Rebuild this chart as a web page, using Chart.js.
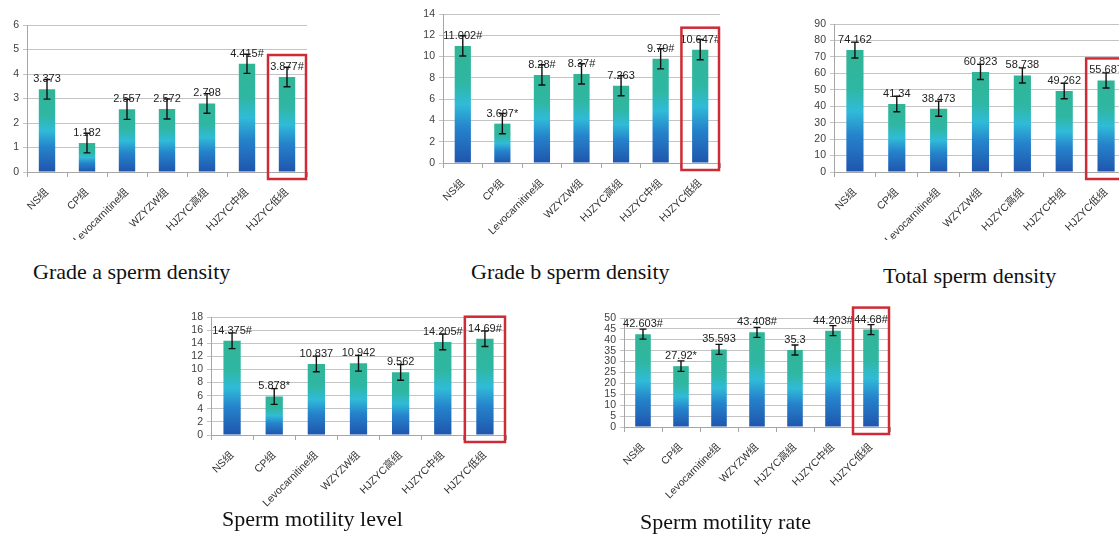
<!DOCTYPE html>
<html>
<head>
<meta charset="utf-8">
<script src="https://cdn.jsdelivr.net/npm/chart.js@4.4.1/dist/chart.umd.min.js"></script>
<style>
  html, body { margin: 0; padding: 0; background: #fff; }
  body { width: 1119px; height: 536px; overflow: hidden; position: relative; }
  .panel { position: absolute; }
  .caption { position: absolute; font-family: "Liberation Serif", "DejaVu Serif", serif; font-size: 22px; line-height: 22px; color: #111; white-space: nowrap; }
</style>
</head>
<body>
<canvas id="c1" class="panel" width="320" height="240" style="left:0px;top:0px"></canvas>
<canvas id="c2" class="panel" width="340" height="240" style="left:400px;top:0px"></canvas>
<canvas id="c3" class="panel" width="350" height="240" style="left:790px;top:0px"></canvas>
<canvas id="c4" class="panel" width="350" height="236" style="left:170px;top:300px"></canvas>
<canvas id="c5" class="panel" width="330" height="236" style="left:580px;top:300px"></canvas>

<div class="caption" style="left:33px;top:261px">Grade a sperm density</div>
<div class="caption" style="left:471px;top:261px">Grade b sperm density</div>
<div class="caption" style="left:883px;top:265px">Total sperm density</div>
<div class="caption" style="left:222px;top:508px">Sperm motility level</div>
<div class="caption" style="left:640px;top:511px">Sperm motility rate</div>

<script>
// Treatment groups
const groups = ['NS组', 'CP组', 'Levocarnitine组', 'WZYZW组', 'HJZYC高组', 'HJZYC中组', 'HJZYC低组'];

// Grade a sperm density
const gradeA = [3.373, 1.182, 2.557, 2.572, 2.798, 4.415, 3.877];
const gradeAErr = [0.4, 0.4, 0.41, 0.41, 0.4, 0.39, 0.4];
const gradeAMarks = ['', '', '', '', '', '#', '#'];
const gradeATicks = { max: 6, step: 1 };

// Grade b sperm density
const gradeB = [11.002, 3.697, 8.28, 8.37, 7.263, 9.79, 10.647];
const gradeBErr = [0.95, 0.95, 0.95, 0.95, 0.95, 0.95, 0.95];
const gradeBMarks = ['#', '*', '#', '#', '', '#', '#'];
const gradeBTicks = { max: 14, step: 2 };

// Total sperm density
const total = [74.162, 41.34, 38.473, 60.823, 58.738, 49.262, 55.687];
const totalErr = [4.8, 4.7, 4.6, 4.6, 4.6, 4.7, 4.6];
const totalMarks = ['', '', '', '', '', '', ''];
const totalTicks = { max: 90, step: 10 };

// Sperm motility level
const motLevel = [14.375, 5.878, 10.837, 10.942, 9.562, 14.205, 14.69];
const motLevelErr = [1.2, 1.2, 1.2, 1.2, 1.2, 1.2, 1.2];
const motLevelMarks = ['#', '*', '', '', '', '#', '#'];
const motLevelTicks = { max: 18, step: 2 };

// Sperm motility rate
const motRate = [42.603, 27.92, 35.593, 43.408, 35.3, 44.203, 44.68];
const motRateErr = [2.3, 2.4, 2.3, 2.3, 2.3, 2.3, 2.3];
const motRateMarks = ['#', '*', '', '#', '', '#', '#'];
const motRateTicks = { max: 50, step: 5 };

const SANS = '"Liberation Sans", "Noto Sans CJK SC", sans-serif';

// Vertical teal -> cyan -> blue fill, stretched over each bar
function barFill(c) {
  const chart = c.chart;
  const y = chart.scales && chart.scales.y;
  if (!chart.chartArea || !y || c.type !== 'data') return '#2bb0c8';
  const v = c.parsed ? c.parsed.y : c.raw;
  const top = y.getPixelForValue(v);
  const base = y.getPixelForValue(0);
  const g = chart.ctx.createLinearGradient(0, top, 0, base);
  g.addColorStop(0, '#31b596');
  g.addColorStop(0.32, '#2fb7a4');
  g.addColorStop(0.5, '#30bbd8');
  g.addColorStop(0.7, '#2583cb');
  g.addColorStop(1, '#1f55ad');
  return g;
}

// Error bars, value labels and the red frame around the last group
const decorPlugin = {
  id: 'decor',
  afterDatasetsDraw(chart, args, opts) {
    const { ctx, chartArea } = chart;
    const y = chart.scales.y;
    const meta = chart.getDatasetMeta(0);
    const values = chart.data.datasets[0].data;
    ctx.save();
    meta.data.forEach((bar, i) => {
      const v = values[i];
      const e = opts.errors[i];
      const yHi = y.getPixelForValue(v + e);
      const yLo = y.getPixelForValue(v - e);
      ctx.strokeStyle = '#111';
      ctx.lineWidth = 1.4;
      ctx.beginPath();
      ctx.moveTo(bar.x, yHi); ctx.lineTo(bar.x, yLo);
      ctx.moveTo(bar.x - 3.5, yHi); ctx.lineTo(bar.x + 3.5, yHi);
      ctx.moveTo(bar.x - 3.5, yLo); ctx.lineTo(bar.x + 3.5, yLo);
      ctx.stroke();
    });
    ctx.font = '11px ' + SANS;
    ctx.fillStyle = '#222';
    ctx.textAlign = 'center';
    ctx.textBaseline = 'alphabetic';
    meta.data.forEach((bar, i) => {
      ctx.fillText(String(values[i]) + opts.marks[i], bar.x, bar.y - 7);
    });
    const last = meta.data[meta.data.length - 1];
    const slot = (chartArea.right - chartArea.left) / meta.data.length;
    ctx.strokeStyle = '#cf2b37';
    ctx.lineWidth = 2.5;
    ctx.strokeRect(last.x - slot / 2 + 1, last.y - 22, slot - 2, chartArea.bottom + 7 - (last.y - 22));
    ctx.restore();
  }
};

function makeChart(id, values, errors, marks, ticks, box) {
  new Chart(document.getElementById(id), {
    type: 'bar',
    data: {
      labels: groups,
      datasets: [{
        data: values,
        backgroundColor: barFill,
        borderWidth: 0,
        barPercentage: 0.82,
        categoryPercentage: 0.5
      }]
    },
    plugins: [decorPlugin],
    options: {
      responsive: false,
      animation: false,
      events: [],
      layout: { padding: { left: 0, top: box.top, right: box.right, bottom: 0 } },
      plugins: {
        legend: { display: false },
        tooltip: { enabled: false },
        decor: { errors: errors, marks: marks }
      },
      scales: {
        x: {
          afterFit(s) { s.height = box.xh; },
          grid: { display: true, drawOnChartArea: false, drawTicks: true, tickLength: 5, color: '#a6a6a6', offset: true },
          border: { display: true, color: '#a6a6a6', width: 1 },
          ticks: {
            autoSkip: false, minRotation: 45, maxRotation: 45, padding: 9,
            color: '#333', font: { size: 10.5, family: SANS }
          }
        },
        y: {
          min: 0, max: ticks.max,
          afterFit(s) { s.width = box.yw; },
          grid: { color: '#c4c4c4', tickLength: 4, lineWidth: 1 },
          border: { display: true, color: '#a6a6a6', width: 1 },
          ticks: { stepSize: ticks.step, autoSkip: false, padding: 4, color: '#404040', font: { size: 10.5, family: SANS } }
        }
      }
    }
  });
}

makeChart('c1', gradeA, gradeAErr, gradeAMarks, gradeATicks, { yw: 27, top: 25, right: 13, xh: 68 });
makeChart('c2', gradeB, gradeBErr, gradeBMarks, gradeBTicks, { yw: 43, top: 14, right: 20, xh: 77 });
makeChart('c3', total, totalErr, totalMarks, totalTicks, { yw: 44, top: 24, right: 13, xh: 68 });
makeChart('c4', motLevel, motLevelErr, motLevelMarks, motLevelTicks, { yw: 41, top: 17, right: 14, xh: 101 });
makeChart('c5', motRate, motRateErr, motRateMarks, motRateTicks, { yw: 44, top: 18, right: 20, xh: 109 });
</script>
</body>
</html>
